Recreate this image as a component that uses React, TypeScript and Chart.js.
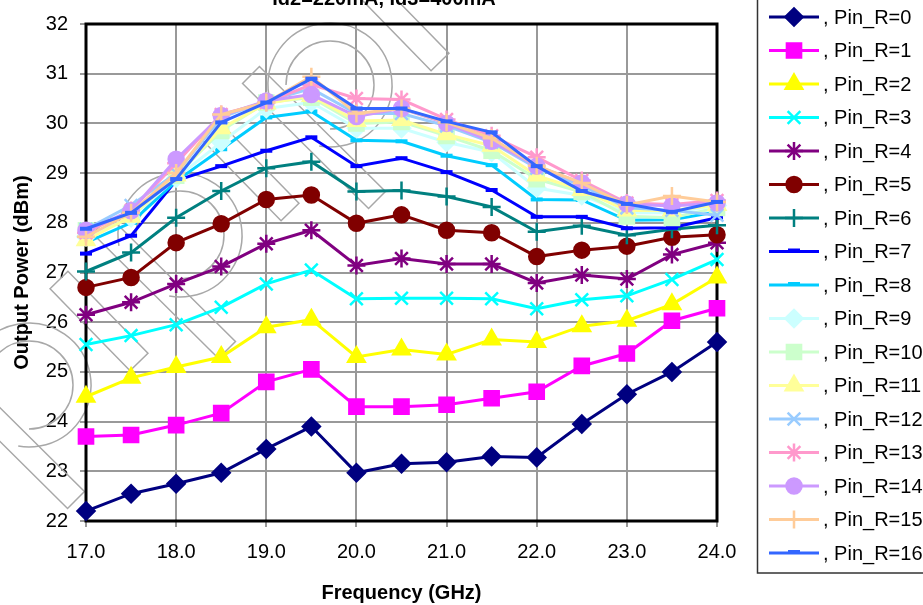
import React, { useEffect, useRef } from "react";
import { Chart, registerables } from "chart.js";
import { drawPoint } from "chart.js/helpers";

Chart.register(...registerables);

const freqs = [17.0, 17.5, 18.0, 18.5, 19.0, 19.5, 20.0, 20.5, 21.0, 21.5, 22.0, 22.5, 23.0, 23.5, 24.0];
const yTicks = [22, 23, 24, 25, 26, 27, 28, 29, 30, 31, 32];

const pin0 = [22.2, 22.55, 22.75, 22.97, 23.45, 23.9, 22.97, 23.15, 23.18, 23.3, 23.28, 23.95, 24.55, 25.0, 25.6];
const pin1 = [23.7, 23.73, 23.93, 24.17, 24.8, 25.05, 24.3, 24.3, 24.34, 24.47, 24.6, 25.12, 25.37, 26.03, 26.28];
const pin2 = [24.5, 24.88, 25.1, 25.3, 25.9, 26.05, 25.3, 25.45, 25.35, 25.65, 25.6, 25.92, 26.03, 26.36, 26.9];
const pin3 = [25.55, 25.73, 25.95, 26.3, 26.77, 27.05, 26.47, 26.48, 26.48, 26.47, 26.27, 26.45, 26.53, 26.86, 27.26];
const pin4 = [26.15, 26.4, 26.77, 27.12, 27.58, 27.85, 27.14, 27.28, 27.17, 27.17, 26.79, 26.95, 26.87, 27.36, 27.6];
const pin5 = [26.7, 26.9, 27.6, 27.98, 28.47, 28.56, 27.99, 28.16, 27.85, 27.8, 27.32, 27.45, 27.53, 27.71, 27.76];
const pin6 = [27.02, 27.4, 28.1, 28.64, 29.1, 29.23, 28.63, 28.65, 28.53, 28.32, 27.82, 27.94, 27.75, 27.87, 27.95];
const pin7 = [27.38, 27.74, 28.85, 29.14, 29.45, 29.72, 29.14, 29.3, 29.02, 28.66, 28.12, 28.12, 27.89, 27.9, 28.1];
const pin8 = [27.6, 28.0, 28.84, 29.48, 30.12, 30.24, 29.66, 29.64, 29.35, 29.16, 28.47, 28.46, 28.05, 28.06, 28.22];
const pin9 = [27.72, 28.1, 28.9, 29.62, 30.3, 30.42, 29.9, 29.9, 29.62, 29.42, 28.7, 28.55, 28.2, 28.2, 28.35];
const pin10 = [27.85, 28.18, 28.95, 29.85, 30.42, 30.52, 30.0, 30.03, 29.75, 29.45, 28.88, 28.62, 28.13, 28.1, 28.3];
const pin11 = [27.65, 28.12, 28.95, 29.9, 30.4, 30.55, 30.05, 30.07, 29.78, 29.55, 28.95, 28.66, 28.25, 28.25, 28.36];
const pin12 = [27.87, 28.35, 29.0, 30.12, 30.45, 30.7, 30.2, 30.2, 29.95, 29.62, 29.1, 28.75, 28.3, 28.25, 28.15];
const pin13 = [27.8, 28.25, 29.2, 30.18, 30.42, 30.78, 30.5, 30.48, 30.08, 29.75, 29.32, 28.85, 28.4, 28.37, 28.45];
const pin14 = [27.85, 28.24, 29.28, 30.16, 30.45, 30.58, 30.14, 30.3, 30.0, 29.64, 29.14, 28.8, 28.38, 28.34, 28.4];
const pin15 = [27.72, 28.2, 29.0, 30.18, 30.42, 30.94, 30.2, 30.3, 30.02, 29.7, 29.15, 28.8, 28.36, 28.54, 28.42];
const pin16 = [27.88, 28.2, 28.88, 30.02, 30.42, 30.9, 30.3, 30.3, 30.04, 29.82, 29.14, 28.64, 28.38, 28.22, 28.42];

const seriesValues = [pin0, pin1, pin2, pin3, pin4, pin5, pin6, pin7, pin8, pin9, pin10, pin11, pin12, pin13, pin14, pin15, pin16];
const seriesLabels = seriesValues.map((_, i) => ", Pin_R=" + i);

const titleText = "Id2=220mA, Id3=400mA";
const xTitle = "Frequency (GHz)";
const yTitle = "Output Power (dBm)";

// styles (not data)
const seriesStyles = [
  { c: "#000080", s: "rectRot", r: 8.5 },
  { c: "#FF00FF", s: "rect", r: 10 },
  { c: "#FFFF00", s: "triangle", r: 9.5 },
  { c: "#00FFFF", s: "crossRot", r: 9 },
  { c: "#800080", s: "star", r: 9 },
  { c: "#800000", s: "circle", r: 7.5 },
  { c: "#008080", s: "cross", r: 9 },
  { c: "#0000FF", s: "line", r: 6 },
  { c: "#00CCFF", s: "line", r: 6 },
  { c: "#CCFFFF", s: "rectRot", r: 8.5 },
  { c: "#CCFFCC", s: "rect", r: 10 },
  { c: "#FFFF99", s: "triangle", r: 9.5 },
  { c: "#99CCFF", s: "crossRot", r: 9 },
  { c: "#FF99CC", s: "star", r: 9 },
  { c: "#CC99FF", s: "circle", r: 7.5 },
  { c: "#FFCC99", s: "cross", r: 9 },
  { c: "#3366FF", s: "line", r: 6 },
];

const FONT = "'Liberation Sans', Arial, sans-serif";

function drawBar(ctx: CanvasRenderingContext2D, x1: number, y1: number, x2: number, y2: number, w: number) {
  const dx = x2 - x1, dy = y2 - y1;
  const len = Math.hypot(dx, dy);
  const nx = (-dy / len) * (w / 2), ny = (dx / len) * (w / 2);
  ctx.beginPath();
  ctx.moveTo(x1 + nx, y1 + ny);
  ctx.lineTo(x2 + nx, y2 + ny);
  ctx.lineTo(x2 - nx, y2 - ny);
  ctx.lineTo(x1 - nx, y1 - ny);
  ctx.closePath();
  ctx.stroke();
}

const watermarkPlugin = {
  id: "watermark",
  beforeDatasetsDraw(chart: any) {
    const ctx: CanvasRenderingContext2D = chart.ctx;
    ctx.save();
    ctx.strokeStyle = "#A8A8A8";
    ctx.lineWidth = 1.5;
    const centers = [[330, 85], [180, 235], [29, 385]];
    for (const [cx, cy] of centers) {
      ctx.beginPath();
      ctx.arc(cx, cy, 62, (170 * Math.PI) / 180, (460 * Math.PI) / 180);
      ctx.stroke();
      ctx.beginPath();
      ctx.arc(cx, cy, 44, (180 * Math.PI) / 180, (450 * Math.PI) / 180);
      ctx.stroke();
      drawBar(ctx, cx - 79, cy - 10, cx + 47, cy + 115, 24);
      drawBar(ctx, cx + 30, cy - 105, cx + 110, cy - 23, 25);
    }
    ctx.restore();
    // plot border
    const a = chart.chartArea;
    ctx.save();
    ctx.strokeStyle = "#000";
    ctx.lineWidth = 3;
    ctx.strokeRect(a.left, a.top, a.right - a.left, a.bottom - a.top);
    ctx.restore();
  },
};

const overlayPlugin = {
  id: "overlay",
  afterDraw(chart: any) {
    const ctx: CanvasRenderingContext2D = chart.ctx;
    ctx.save();
    // title (clipped at top in the reference)
    ctx.fillStyle = "#000";
    ctx.font = "bold 20px " + FONT;
    ctx.textAlign = "center";
    ctx.textBaseline = "alphabetic";
    ctx.fillText(titleText, 384, 5);

    // legend
    ctx.strokeStyle = "#333";
    ctx.lineWidth = 1.5;
    ctx.strokeRect(757.5, -5, 300, 578);
    ctx.font = "20px " + FONT;
    ctx.textAlign = "left";
    ctx.textBaseline = "middle";
    seriesLabels.forEach((lab, i) => {
      const y = 17 + i * 33.5;
      const st = seriesStyles[i];
      ctx.strokeStyle = st.c;
      ctx.fillStyle = st.c;
      ctx.lineWidth = 3;
      ctx.beginPath();
      ctx.moveTo(769, y);
      ctx.lineTo(819, y);
      ctx.stroke();
      ctx.lineWidth = st.s === "line" ? 4 : 2.5;
      drawPoint(ctx, { pointStyle: st.s, radius: st.r, borderWidth: ctx.lineWidth, rotation: 0 } as any, 794, st.s === "line" ? y - 1 : y);
      ctx.fillStyle = "#000";
      ctx.fillText(lab, 823, y + 1);
    });
    ctx.restore();
  },
};

export default function App() {
  const ref = useRef<HTMLCanvasElement | null>(null);
  useEffect(() => {
    if (!ref.current) return;
    const datasets = seriesValues.map((vals, i) => {
      const st = seriesStyles[i];
      return {
        label: seriesLabels[i],
        data: freqs.map((f, j) => ({ x: f, y: vals[j] })),
        borderColor: st.c,
        backgroundColor: st.c,
        borderWidth: 3,
        pointStyle: st.s,
        pointRadius: st.r,
        pointBackgroundColor: st.c,
        pointBorderColor: st.c,
        pointBorderWidth: st.s === "line" ? 4 : 2.5,
        tension: 0,
        order: 16 - i,
        clip: false as any,
      };
    });
    const chart = new Chart(ref.current, {
      type: "line",
      data: { datasets },
      plugins: [watermarkPlugin, overlayPlugin],
      options: {
        animation: false,
        responsive: false,
        events: [],
        layout: { padding: { top: 21, right: 206, left: 0, bottom: 0 } },
        plugins: { legend: { display: false }, title: { display: false }, tooltip: { enabled: false } },
        scales: {
          x: {
            type: "linear",
            min: 17,
            max: 24,
            afterFit: (s: any) => { s.height = 84; },
            afterBuildTicks: (s: any) => { s.ticks = [17, 18, 19, 20, 21, 22, 23, 24].map((v) => ({ value: v })); },
            ticks: {
              color: "#000",
              font: { family: FONT, size: 20 },
              padding: 13,
              maxRotation: 0,
              callback: (v: any) => Number(v).toFixed(1),
            },
            grid: { color: "#999999", lineWidth: 2, tickLength: 6, tickColor: "#999999", drawTicks: true },
            border: { display: false },
            title: { display: true, text: xTitle, color: "#000", font: { family: FONT, size: 20, weight: "bold" }, padding: { top: 0, bottom: 0 } },
          },
          y: {
            type: "linear",
            min: 22,
            max: 32,
            afterFit: (s: any) => { s.width = 86; },
            afterBuildTicks: (s: any) => { s.ticks = yTicks.map((v) => ({ value: v })); },
            ticks: { color: "#000", font: { family: FONT, size: 20 }, padding: 12 },
            grid: { color: "#999999", lineWidth: 2, tickLength: 6, tickColor: "#999999", drawTicks: true },
            border: { display: false },
            title: { display: true, text: yTitle, color: "#000", font: { family: FONT, size: 20, weight: "bold" }, padding: { top: 10, bottom: 0 } },
          },
        },
      } as any,
    });
    return () => chart.destroy();
  }, []);
  return (
    <div style={{ position: "fixed", left: 0, top: 0, width: 923, height: 605, overflow: "hidden", background: "#fff" }}>
      <canvas ref={ref} width={923} height={605} style={{ width: 923, height: 605, display: "block" }} />
    </div>
  );
}
